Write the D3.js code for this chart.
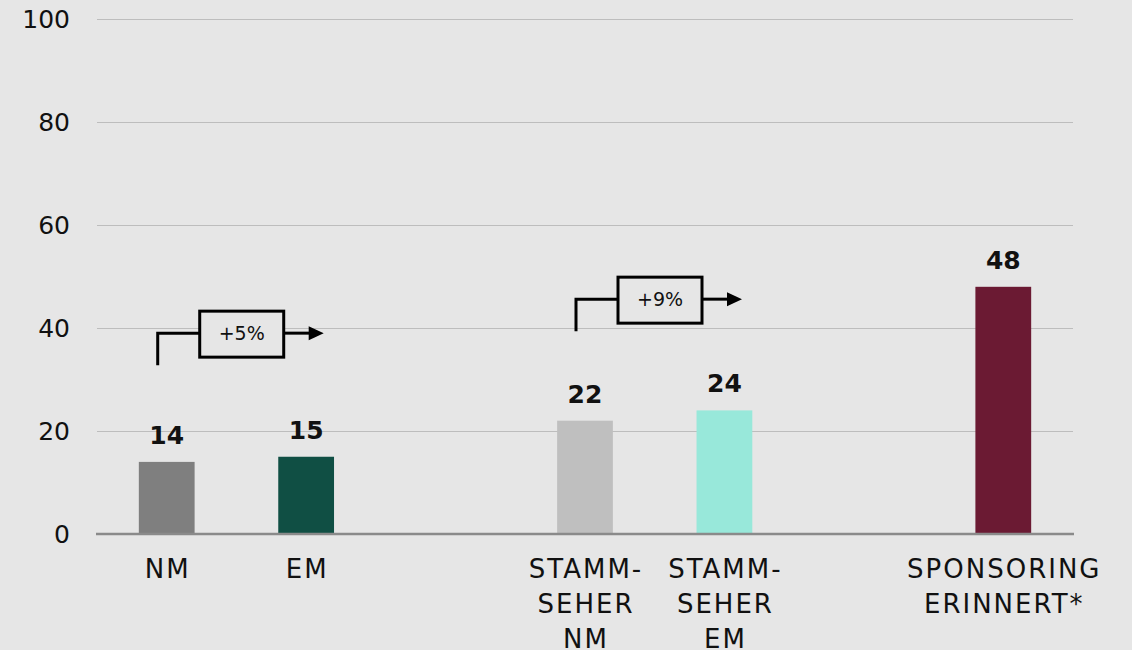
<!DOCTYPE html>
<html>
<head>
<meta charset="utf-8">
<script src="https://cdn.jsdelivr.net/npm/d3@7"></script>
<style>
  html, body { margin: 0; padding: 0; background: #e6e6e6; }
  svg { display: block; }
  text { font-family: "DejaVu Sans", sans-serif; fill: #111; }
</style>
</head>
<body>
<svg id="chart" width="1132" height="650"></svg>
<script>
// ---- data ----
const groups = [
  ["NM", "EM"],
  ["STAMM-\nSEHER\nNM", "STAMM-\nSEHER\nEM"],
  ["SPONSORING\nERINNERT*"]
];
const values = [14, 15, 22, 24, 48];
const colors = ["#7f7f7f", "#104f44", "#bfbfbf", "#98e8da", "#6b1a33"];
const yTicks = [0, 20, 40, 60, 80, 100];
const annotations = [
  { from: "NM", label: "+5%", value: 39 },
  { from: "STAMM-\nSEHER\nNM", label: "+9%", value: 45.6 }
];

// ---- layout ----
const W = 1132, H = 650;
const mLeft = 97, mRight = 1073, mTop = 19, mBottom = 534;

const categories = groups.flat();
// slots: categories with a blank slot between groups
const slots = [];
groups.forEach((g, i) => {
  g.forEach(c => slots.push(c));
  if (i < groups.length - 1) slots.push("__gap" + i);
});

const x = d3.scaleBand().domain(slots).range([mLeft, mRight])
  .paddingInner(0.6).paddingOuter(0.3);
const y = d3.scaleLinear().domain([0, 100]).range([mBottom, mTop]);

const svg = d3.select("#chart");
svg.append("rect").attr("width", W).attr("height", H).attr("fill", "#e6e6e6");

// gridlines
const yAxis = d3.axisLeft(y).tickValues(yTicks).tickSize(-(mRight - mLeft)).tickPadding(27);
const gy = svg.append("g").attr("transform", `translate(${mLeft},0)`).call(yAxis);
gy.select(".domain").remove();
gy.selectAll(".tick line").attr("stroke", "#bdbdbd").attr("stroke-width", 1);
gy.selectAll(".tick text").attr("font-size", 25).attr("fill", "#111")
  .style("font-family", "DejaVu Sans, sans-serif");
gy.selectAll(".tick").filter(d => d === 0).select("line").remove();

// bars
const data = categories.map((c, i) => ({ c, v: values[i], color: colors[i] }));
svg.append("g").selectAll("rect").data(data).join("rect")
  .attr("x", d => x(d.c))
  .attr("width", x.bandwidth())
  .attr("y", d => y(d.v))
  .attr("height", d => y(0) - y(d.v))
  .attr("fill", d => d.color);

// baseline axis
svg.append("line")
  .attr("x1", mLeft - 1).attr("x2", mRight + 1)
  .attr("y1", y(0)).attr("y2", y(0))
  .attr("stroke", "#8a8a8a").attr("stroke-width", 2.5);

// value labels
svg.append("g").selectAll("text").data(data).join("text")
  .attr("x", d => x(d.c) + x.bandwidth() / 2)
  .attr("y", d => y(d.v) - 18)
  .attr("text-anchor", "middle")
  .attr("font-size", 25)
  .attr("font-weight", "bold")
  .text(d => d.v);

// category labels
const catG = svg.append("g").selectAll("text").data(data).join("text")
  .attr("x", d => x(d.c) + x.bandwidth() / 2)
  .attr("y", 578)
  .attr("text-anchor", "middle")
  .attr("font-size", 26)
  .attr("letter-spacing", 2);
catG.each(function(d) {
  const t = d3.select(this);
  d.c.split("\n").forEach((line, i) => {
    t.append("tspan")
      .attr("x", x(d.c) + x.bandwidth() / 2 + 1)
      .attr("dy", i === 0 ? 0 : 35)
      .text(line);
  });
});

// annotations
const annG = svg.append("g");
annotations.forEach(a => {
  const cx = x(a.from) + x.bandwidth() / 2;
  const yy = y(a.value);
  const g = annG.append("g");
  const boxL = cx + 33, boxW = 84, boxH = 46;
  g.append("path")
    .attr("d", `M${cx - 9},${yy + 32} V${yy} H${boxL}`)
    .attr("fill", "none").attr("stroke", "#000").attr("stroke-width", 3);
  g.append("line")
    .attr("x1", boxL + boxW).attr("x2", cx + 144)
    .attr("y1", yy).attr("y2", yy)
    .attr("stroke", "#000").attr("stroke-width", 3);
  g.append("path")
    .attr("d", `M${cx + 142},${yy - 7} L${cx + 157},${yy} L${cx + 142},${yy + 7} Z`)
    .attr("fill", "#000");
  g.append("rect")
    .attr("x", boxL).attr("y", yy - 22)
    .attr("width", boxW).attr("height", boxH)
    .attr("fill", "#e6e6e6").attr("stroke", "#000").attr("stroke-width", 3);
  g.append("text")
    .attr("x", boxL + boxW / 2).attr("y", yy + 7)
    .attr("text-anchor", "middle")
    .attr("font-size", 19)
    .attr("fill", "#222")
    .text(a.label);
});
</script>
</body>
</html>
